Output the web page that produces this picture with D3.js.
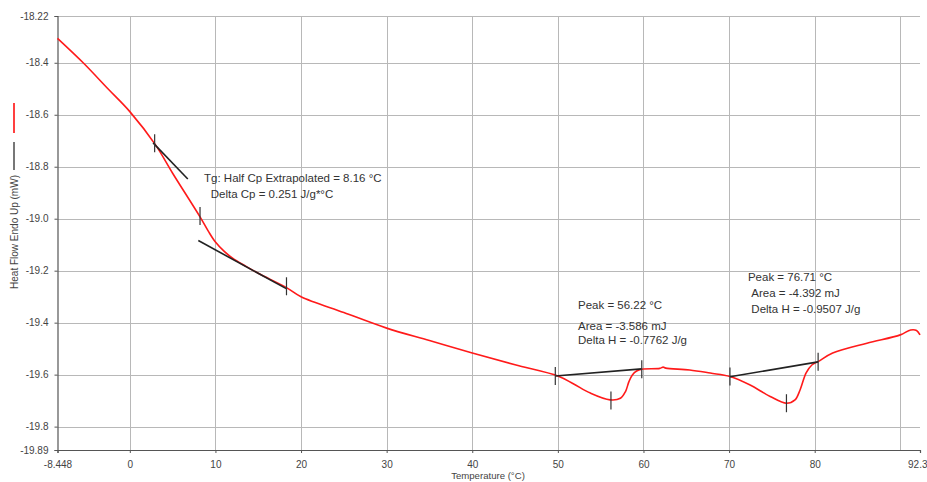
<!DOCTYPE html>
<html><head><meta charset="utf-8">
<script src="https://cdn.jsdelivr.net/npm/d3@7"></script>
<style>
html,body{margin:0;padding:0;background:#fff;}
svg{display:block;font-family:"Liberation Sans",Arial,sans-serif;}
</style></head>
<body>
<svg id="chart" width="927" height="482"></svg>
<script>
// ---- data ----
const temps = [-8.448,-5.45,-2.5,0,3,5,8.2,9.2,10,11,12,13.5,15,18.3,20,25,30,35,40,45,50,51.8,53.8,56.1,57.3,57.9,58.3,58.7,59.2,59.8,61.9,62.3,62.6,65.4,67.8,70.1,72.4,74.8,76.7,77.7,78.3,79.0,79.7,80.4,82.1,86.1,90.0,91.2,91.9,92.3];
const heatFlow = [-18.306,-18.40,-18.502,-18.588,-18.716,-18.825,-18.993,-19.05,-19.09,-19.125,-19.152,-19.182,-19.21,-19.265,-19.30,-19.361,-19.421,-19.469,-19.517,-19.562,-19.605,-19.635,-19.671,-19.697,-19.691,-19.665,-19.627,-19.601,-19.586,-19.579,-19.576,-19.571,-19.575,-19.582,-19.594,-19.607,-19.639,-19.684,-19.710,-19.697,-19.658,-19.593,-19.562,-19.550,-19.517,-19.479,-19.447,-19.428,-19.430,-19.447];
// analysis lines: [T1, v1, T2, v2]
const analysisLines = [
  [2.72,-18.708,6.77,-18.847],
  [8.0,-19.084,18.33,-19.270],
  [49.7,-19.605,59.8,-19.578],
  [70.1,-19.608,80.4,-19.551]
];
const markerT = [2.9,8.2,18.3,49.7,56.2,59.8,70.1,76.7,80.4];
const markerV = [-18.71,-18.99,-19.26,-19.605,-19.70,-19.579,-19.607,-19.71,-19.55];
const xTicks = [-8.448,0,10,20,30,40,50,60,70,80,92.3];
const xTickLabels = ["-8.448","0","10","20","30","40","50","60","70","80","92.3"];
const xGrid = [0,10,20,30,40,50,60,70,80,90];
const yTicks = [-18.22,-18.4,-18.6,-18.8,-19.0,-19.2,-19.4,-19.6,-19.8,-19.89];
const yTickLabels = ["-18.22","-18.4","-18.6","-18.8","-19.0","-19.2","-19.4","-19.6","-19.8","-19.89"];
const annotations = [
  {t:8.67, v:-18.8415, text:"Tg: Half Cp Extrapolated = 8.16 °C"},
  {t:9.45, v:-18.9042, text:"Delta Cp = 0.251 J/g*°C"},
  {t:52.35, v:-19.332, text:"Peak = 56.22 °C"},
  {t:52.35, v:-19.4128, text:"Area = -3.586 mJ"},
  {t:52.35, v:-19.4667, text:"Delta H = -0.7762 J/g"},
  {t:72.2, v:-19.2228, text:"Peak = 76.71 °C"},
  {t:72.6, v:-19.2855, text:"Area = -4.392 mJ"},
  {t:72.6, v:-19.347, text:"Delta H = -0.9507 J/g"}
];

// ---- chart ----
const svg = d3.select("#chart");
const x = d3.scaleLinear().domain([-8.448, 92.3]).range([57.5, 920]);
const y = d3.scaleLinear().domain([-18.22, -19.89]).range([16, 450]);

// gridlines
svg.append("g").selectAll("line").data(xGrid).join("line")
  .attr("x1", d => Math.round(x(d)) + 0.5).attr("x2", d => Math.round(x(d)) + 0.5)
  .attr("y1", y(-18.22)).attr("y2", y(-19.89))
  .attr("stroke", "#b8b8b8").attr("stroke-width", 1);
svg.append("g").selectAll("line").data(yTicks.slice(0, -1)).join("line")
  .attr("x1", x(-8.448)).attr("x2", x(92.3))
  .attr("y1", d => Math.round(y(d)) + 0.5).attr("y2", d => Math.round(y(d)) + 0.5)
  .attr("stroke", "#b8b8b8").attr("stroke-width", 1);

// axes
const xAxis = d3.axisBottom(x).tickValues(xTicks).tickFormat((d, i) => xTickLabels[i]).tickSize(3).tickPadding(8);
const gx = svg.append("g").attr("transform", `translate(0,${y(-19.89)})`).call(xAxis);
const yAxis = d3.axisLeft(y).tickValues(yTicks).tickFormat((d, i) => yTickLabels[i]).tickSize(3).tickPadding(6);
const gy = svg.append("g").attr("transform", `translate(${x(-8.448)},0)`).call(yAxis);
[gx, gy].forEach(g => {
  g.select(".domain").attr("stroke", "#555").attr("stroke-width", 1.2);
  g.selectAll(".tick line").attr("stroke", "#555");
  g.selectAll(".tick text").attr("fill", "#444").style("font-size", "10px").style("font-family", "'Liberation Sans',Arial,sans-serif");
});
// keep the last x label inside the window
gx.selectAll(".tick text").filter((d, i) => i === xTicks.length - 1).attr("text-anchor", "end").attr("dx", "7");

// axis titles
svg.append("text").attr("x", 488).attr("y", 479).attr("text-anchor", "middle")
  .attr("fill", "#444").style("font-size", "9.6px").text("Temperature (°C)");
svg.append("text").attr("transform", "translate(18,232) rotate(-90)").attr("text-anchor", "middle")
  .attr("fill", "#444").style("font-size", "10px").text("Heat Flow Endo Up (mW)");

// legend
svg.append("line").attr("x1", 14).attr("x2", 14).attr("y1", 103).attr("y2", 133).attr("stroke", "#ff1010").attr("stroke-width", 1.6);
svg.append("line").attr("x1", 14).attr("x2", 14).attr("y1", 142).attr("y2", 170).attr("stroke", "#555").attr("stroke-width", 1.6);

// data curve
const line = d3.line().x(d => x(d[0])).y(d => y(d[1])).curve(d3.curveCatmullRom.alpha(0.5));
svg.append("path").datum(temps.map((t, i) => [t, heatFlow[i]]))
  .attr("d", line).attr("fill", "none").attr("stroke", "#ff1a1a").attr("stroke-width", 1.6);

// analysis lines
svg.append("g").selectAll("line").data(analysisLines).join("line")
  .attr("x1", d => x(d[0])).attr("y1", d => y(d[1])).attr("x2", d => x(d[2])).attr("y2", d => y(d[3]))
  .attr("stroke", "#222").attr("stroke-width", 1.6);

// markers
svg.append("g").selectAll("line").data(markerT).join("line")
  .attr("x1", d => x(d)).attr("x2", d => x(d))
  .attr("y1", (d, i) => y(markerV[i]) - 9).attr("y2", (d, i) => y(markerV[i]) + 9)
  .attr("stroke", "#333").attr("stroke-width", 1.2);

// annotations
svg.append("g").selectAll("text").data(annotations).join("text")
  .attr("x", d => x(d.t)).attr("y", d => y(d.v)).attr("dominant-baseline", "central")
  .attr("fill", "#333").style("font-size", "11.5px").text(d => d.text);
</script>
</body></html>
